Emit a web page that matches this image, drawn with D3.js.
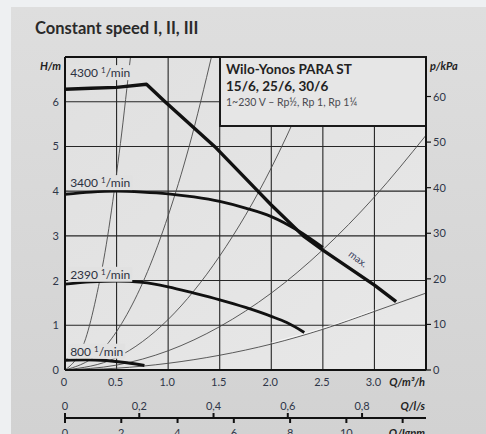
<!DOCTYPE html>
<html>
<head>
<meta charset="utf-8">
<script src="https://cdn.jsdelivr.net/npm/d3@7"></script>
<style>
  html, body { margin: 0; padding: 0; background: #eef0f2; }
  svg { display: block; font-family: "Lato", "Noto Sans", sans-serif; }
</style>
</head>
<body>
<svg id="chart" width="486" height="434"></svg>
<script>
// axis ticks
const qTicks = [0, 0.5, 1.0, 1.5, 2.0, 2.5, 3.0];
const hTicks = [0, 1, 2, 3, 4, 5, 6];
const pTicks = [0, 10, 20, 30, 40, 50, 60];
const lsTicks = [0, 0.2, 0.4, 0.6, 0.8];
const gpmTicks = [0, 2, 4, 6, 8, 10, 12];

// pump curves, [Q m3/h, H m]
const curveMax = [[0, 6.28], [0.25, 6.3], [0.5, 6.32], [0.79, 6.39], [0.97, 6.0], [1.45, 5.0], [1.87, 4.0],
                  [2.0, 3.69], [2.31, 3.0], [2.5, 2.68], [3.0, 1.9], [3.21, 1.53]];
const curve3400 = [[0, 3.93], [0.25, 3.98], [0.5, 4.0], [0.75, 3.98], [1.0, 3.94], [1.25, 3.87], [1.5, 3.77],
                   [1.75, 3.62], [2.0, 3.43], [2.25, 3.13], [2.5, 2.74]];
const curve2390 = [[0, 1.92], [0.25, 1.97], [0.5, 1.99], [0.75, 1.96], [1.0, 1.86], [1.25, 1.72], [1.5, 1.57],
                   [1.75, 1.4], [2.0, 1.2], [2.15, 1.06], [2.32, 0.84]];
const curve800 = [[0, 0.22], [0.2, 0.23], [0.4, 0.21], [0.6, 0.16], [0.77, 0.1]];

// system curves (thin lines from origin)
const systemCurves = [
  [[0, 0], [0.2, 0.7], [0.3, 1.6], [0.4, 2.8], [0.5, 4.4], [0.55, 5.3], [0.6, 6.3], [0.64, 7.1]],
  [[0, 0], [0.4, 0.55], [0.6, 1.24], [0.8, 2.2], [1.0, 3.45], [1.2, 4.97], [1.43, 7.1]],
  [[0, 0], [0.5, 0.28], [1.0, 1.13], [1.5, 2.55], [2.0, 4.52], [2.3, 6.0], [2.5, 7.1]],
  [[0, 0], [0.5, 0.11], [1.0, 0.43], [1.5, 0.97], [2.0, 1.72], [2.5, 2.69], [3.0, 3.87], [3.5, 5.25]],
  [[0, 0], [0.5, 0.04], [1.0, 0.15], [1.5, 0.33], [2.0, 0.58], [2.5, 0.91], [3.0, 1.31], [3.5, 1.72]]
];

const speedLabels = [
  { rpm: "4300", h: 6.55 },
  { rpm: "3400", h: 4.09 },
  { rpm: "2390", h: 2.04 },
  { rpm: "800", h: 0.32 }
];

const KPA_PER_M = 9.81, M3H_PER_LS = 3.6, M3H_PER_GPM = 0.2728;

const svg = d3.select("#chart");
const x = d3.scaleLinear().domain([0, 3.5]).range([65, 426]);
const y = d3.scaleLinear().domain([0, 7]).range([370, 57]);
const yP = d3.scaleLinear().domain([0, 7 * KPA_PER_M]).range([370, 57]);

const defs = svg.append("defs");
const bg = defs.append("linearGradient").attr("id", "bg").attr("x1", 0).attr("y1", 0).attr("x2", 0).attr("y2", 1);
bg.append("stop").attr("offset", "0%").attr("stop-color", "#dedede");
bg.append("stop").attr("offset", "100%").attr("stop-color", "#d2d2d2");
const pg = defs.append("linearGradient").attr("id", "pg").attr("x1", 0).attr("y1", 0).attr("x2", 1).attr("y2", 1);
pg.append("stop").attr("offset", "0%").attr("stop-color", "#e0e0e0");
pg.append("stop").attr("offset", "100%").attr("stop-color", "#e8e8e8");
defs.append("clipPath").attr("id", "plotclip").append("rect")
  .attr("x", x(0)).attr("y", y(7)).attr("width", x(3.5) - x(0)).attr("height", y(0) - y(7));

svg.append("rect").attr("x", 11).attr("y", 7).attr("width", 475).attr("height", 427).attr("fill", "url(#bg)");
svg.append("rect").attr("x", x(0)).attr("y", y(7)).attr("width", x(3.5) - x(0)).attr("height", y(0) - y(7))
  .attr("fill", "url(#pg)");

svg.append("text").attr("x", 35).attr("y", 34).attr("font-size", 16.5).attr("font-weight", 700)
  .attr("fill", "#2a2a2a").text("Constant speed I, II, III");

// grid
const grid = svg.append("g").attr("stroke", "#262626").attr("stroke-width", 1.1);
grid.selectAll(".gv").data(qTicks.slice(1)).join("line")
  .attr("x1", d => x(d)).attr("x2", d => x(d)).attr("y1", y(0)).attr("y2", y(7));
grid.selectAll(".gh").data(hTicks.slice(1)).join("line")
  .attr("x1", x(0)).attr("x2", x(3.5)).attr("y1", d => y(d)).attr("y2", d => y(d));

const line = d3.line().x(d => x(d[0])).y(d => y(d[1]));
const plot = svg.append("g").attr("clip-path", "url(#plotclip)");

plot.selectAll(".sys").data(systemCurves).join("path")
  .attr("d", line.curve(d3.curveMonotoneX)).attr("fill", "none")
  .attr("stroke", "#4a4a4a").attr("stroke-width", 0.9);
// small highlight near the flattest system curve
plot.append("path").datum(systemCurves[4].filter(d => d[0] >= 2.0 && d[0] <= 3.0))
  .attr("d", line.curve(d3.curveMonotoneX)).attr("transform", "translate(0,-1.3)")
  .attr("fill", "none").attr("stroke", "#ffffff").attr("stroke-width", 0.8).attr("opacity", 0.8);

plot.append("path").datum(curve800).attr("d", line.curve(d3.curveMonotoneX))
  .attr("fill", "none").attr("stroke", "#111").attr("stroke-width", 3);
plot.append("path").datum(curve2390).attr("d", line.curve(d3.curveMonotoneX))
  .attr("fill", "none").attr("stroke", "#111").attr("stroke-width", 2.8);
plot.append("path").datum(curve3400).attr("d", line.curve(d3.curveMonotoneX))
  .attr("fill", "none").attr("stroke", "#111").attr("stroke-width", 2.8);
plot.append("path").datum(curveMax).attr("d", line.curve(d3.curveLinear))
  .attr("fill", "none").attr("stroke", "#111").attr("stroke-width", 3.4).attr("stroke-linejoin", "round");

// speed labels with opaque backing
speedLabels.forEach(s => {
  const g = svg.append("g");
  const t = g.append("text").attr("x", x(0.05)).attr("y", y(s.h)).attr("font-size", 12)
    .attr("fill", "#2b3040");
  t.append("tspan").text(s.rpm + " ");
  t.append("tspan").attr("font-size", 8).attr("dy", -4).text("1");
  t.append("tspan").attr("dy", 4).text("/min");
  const b = t.node().getBBox();
  g.insert("rect", "text").attr("x", b.x - 2).attr("y", b.y).attr("width", b.width + 4).attr("height", b.height)
    .attr("fill", "#e1e1e1");
});

svg.append("text").attr("font-size", 10).attr("fill", "#3a4060")
  .attr("transform", `translate(${x(2.82)},${y(2.42)}) rotate(37)`).attr("text-anchor", "middle").text("max.");

// legend box
svg.append("rect").attr("x", 220).attr("y", y(7)).attr("width", x(3.5) - 220).attr("height", 69)
  .attr("fill", "#e6e6e6").attr("stroke", "#1a1a1a").attr("stroke-width", 2);
svg.append("text").attr("x", 226).attr("y", 74).attr("font-size", 13.5).attr("font-weight", 700)
  .attr("fill", "#222").text("Wilo-Yonos PARA ST");
svg.append("text").attr("x", 226).attr("y", 91).attr("font-size", 13.5).attr("font-weight", 700)
  .attr("fill", "#222").text("15/6, 25/6, 30/6");
svg.append("text").attr("x", 226).attr("y", 106).attr("font-size", 10.5)
  .attr("fill", "#4a4a50").text("1~230 V – Rp½, Rp 1, Rp 1¼");

// frame
const frame = svg.append("g").attr("stroke", "#111").attr("stroke-width", 2).attr("fill", "none");
frame.append("line").attr("x1", x(0)).attr("x2", x(0)).attr("y1", y(0)).attr("y2", y(7));
frame.append("line").attr("x1", x(0)).attr("x2", x(3.5)).attr("y1", y(0)).attr("y2", y(0));
frame.append("line").attr("x1", x(0)).attr("x2", 220).attr("y1", y(7)).attr("y2", y(7));
frame.append("line").attr("x1", x(3.5)).attr("x2", x(3.5)).attr("y1", y(0)).attr("y2", y(7));

// axes labels
const numCol = "#2f3648";
svg.selectAll(".hl").data(hTicks).join("text")
  .attr("x", 59).attr("y", d => y(d) + 4).attr("text-anchor", "end").attr("font-size", 11)
  .attr("fill", numCol).text(d => d);
svg.selectAll(".pt").data(pTicks).join("line")
  .attr("x1", x(3.5)).attr("x2", x(3.5) + 5).attr("y1", d => yP(d)).attr("y2", d => yP(d))
  .attr("stroke", "#111").attr("stroke-width", 1.2);
svg.selectAll(".pl").data(pTicks).join("text")
  .attr("x", 433).attr("y", d => yP(d) + 4).attr("font-size", 11)
  .attr("fill", numCol).text(d => d);
svg.selectAll(".ql").data(qTicks).join("text")
  .attr("x", d => x(d) - 1).attr("y", 386).attr("text-anchor", "middle").attr("font-size", 11)
  .attr("fill", numCol).text(d => d === 0 ? "0" : d.toFixed(1));

const unitLabel = (tx, ty, anchor, txt) => svg.append("text").attr("x", tx).attr("y", ty)
  .attr("text-anchor", anchor).attr("font-size", 11).attr("font-weight", 700).attr("font-style", "italic")
  .attr("fill", "#222").text(txt);
unitLabel(61, 70, "end", "H/m");
unitLabel(430, 70, "start", "p/kPa");
unitLabel(425, 386, "end", "Q/m³/h");
unitLabel(425, 410, "end", "Q/l/s");
unitLabel(425, 437, "end", "Q/Igpm");

// secondary flow axis
const ay = 418;
svg.append("line").attr("x1", x(0)).attr("x2", x(3.5)).attr("y1", ay).attr("y2", ay)
  .attr("stroke", "#111").attr("stroke-width", 2);
svg.selectAll(".lst").data(lsTicks).join("line")
  .attr("x1", d => x(d * M3H_PER_LS)).attr("x2", d => x(d * M3H_PER_LS)).attr("y1", ay - 5).attr("y2", ay)
  .attr("stroke", "#111").attr("stroke-width", 2);
svg.selectAll(".lsl").data(lsTicks).join("text")
  .attr("x", d => x(d * M3H_PER_LS)).attr("y", 410).attr("text-anchor", "middle").attr("font-size", 11)
  .attr("fill", numCol).text(d => d === 0 ? "0" : d.toFixed(1).replace(".", ","));
svg.selectAll(".gpt").data(gpmTicks).join("line")
  .attr("x1", d => x(d * M3H_PER_GPM)).attr("x2", d => x(d * M3H_PER_GPM)).attr("y1", ay).attr("y2", ay + 5)
  .attr("stroke", "#111").attr("stroke-width", 2);
svg.selectAll(".gpl").data(gpmTicks.slice(0, 6)).join("text")
  .attr("x", d => x(d * M3H_PER_GPM)).attr("y", 437).attr("text-anchor", "middle").attr("font-size", 11)
  .attr("fill", numCol).text(d => d);
</script>
</body>
</html>
